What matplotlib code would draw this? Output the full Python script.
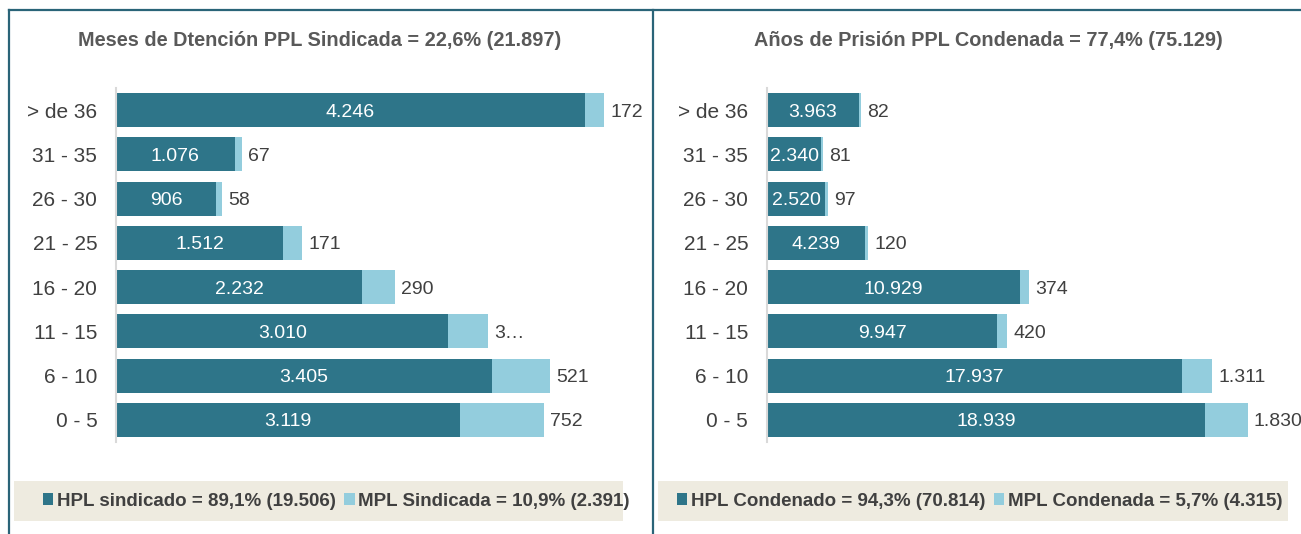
import matplotlib
matplotlib.use('Agg')
import matplotlib.pyplot as plt
from matplotlib.patches import Rectangle, Patch
from matplotlib.lines import Line2D

plt.rcParams['font.family'] = ['Liberation Sans', 'DejaVu Sans']

# data
categories = ['> de 36', '31 - 35', '26 - 30', '21 - 25', '16 - 20', '11 - 15', '6 - 10', '0 - 5']
hpl_sindicado = [4246, 1076, 906, 1512, 2232, 3010, 3405, 3119]
mpl_sindicada = [172, 67, 58, 171, 290, 360, 521, 752]
hpl_condenado = [3963, 2340, 2520, 4239, 10929, 9947, 17937, 18939]
mpl_condenada = [82, 81, 97, 120, 374, 420, 1311, 1830]

title_left = 'Meses de Dtención PPL Sindicada = 22,6% (21.897)'
title_right = 'Años de Prisión PPL Condenada = 77,4% (75.129)'
legend_left = ['HPL sindicado = 89,1% (19.506)', 'MPL Sindicada = 10,9% (2.391)']
legend_right = ['HPL Condenado = 94,3% (70.814)', 'MPL Condenada = 5,7% (4.315)']

DARK = '#2E7589'
LIGHT = '#93CDDD'
BORDER = '#2A6478'
TXT = '#404040'
W, H = 1301, 534


def fmt(v):
    return f'{v:,}'.replace(',', '.')


def px_rect(x0, y0, x1, y1):
    return [x0 / W, 1 - y1 / H, (x1 - x0) / W, (y1 - y0) / H]


fig = plt.figure(figsize=(W / 100, H / 100), dpi=100)
fig.patch.set_facecolor('white')


def draw_panel(ax, hpl, mpl, xmax, mpl_labels):
    y = list(range(len(categories)))[::-1]
    ax.barh(y, hpl, height=0.77, color=DARK)
    ax.barh(y, mpl, left=hpl, height=0.77, color=LIGHT)
    for yi, h, m, lab in zip(y, hpl, mpl, mpl_labels):
        ax.text(h / 2, yi, fmt(h), ha='center', va='center_baseline', color='white', fontsize=14)
        ax.annotate(lab, (h + m, yi), xytext=(4.5, 0), textcoords='offset points',
                    ha='left', va='center_baseline', color=TXT, fontsize=14)
    ax.set_yticks(y)
    ax.set_yticklabels(categories, va='center_baseline')
    ax.set_ylim(-0.5, len(categories) - 0.5)
    ax.set_xlim(0, xmax)
    ax.set_xticks([])
    for s in ['top', 'right', 'bottom']:
        ax.spines[s].set_visible(False)
    ax.spines['left'].set_color('#D9D9D9')
    ax.spines['left'].set_linewidth(1.5)
    ax.tick_params(axis='y', length=0, pad=13.5, labelsize=15, labelcolor=TXT)


ax1 = fig.add_axes(px_rect(116, 88, 645, 442))
lbl1 = [fmt(v) for v in mpl_sindicada]
lbl1[5] = '3…'  # truncated in the original
draw_panel(ax1, hpl_sindicado, mpl_sindicada, 4790, lbl1)

ax2 = fig.add_axes(px_rect(767, 88, 1290, 442))
draw_panel(ax2, hpl_condenado, mpl_condenada, 22600, [fmt(v) for v in mpl_condenada])

# titles
fig.text(320 / W, 1 - 41 / H, title_left, ha='center', va='center',
         fontsize=14.3, fontweight='bold', color='#595959')
fig.text(988 / W, 1 - 41 / H, title_right, ha='center', va='center',
         fontsize=14.3, fontweight='bold', color='#595959')

# legend boxes
for x0, x1 in [(14, 623), (658, 1288)]:
    fig.patches.append(Rectangle((x0 / W, 1 - 521 / H), (x1 - x0) / W, 40 / H,
                                 transform=fig.transFigure, facecolor='#EEEBE0',
                                 edgecolor='none', zorder=1))

for labels, xs in [(legend_left, 43), (legend_right, 677)]:
    handles = [Patch(facecolor=DARK, label=labels[0]), Patch(facecolor=LIGHT, label=labels[1])]
    leg = fig.legend(handles=handles, loc='center left', bbox_to_anchor=(xs / W, 1 - 501 / H),
                     ncol=2, frameon=False, borderpad=0, borderaxespad=0,
                     handlelength=0.55, handleheight=0.55, handletextpad=0.2,
                     columnspacing=0.45, prop={'size': 13.5, 'weight': 'bold'})
    for t in leg.get_texts():
        t.set_color(TXT)

# panel borders
for xs_, ys_ in [([9, 9], [10, 534]), ([9, 1301], [10, 10]), ([652.5, 652.5], [10, 534])]:
    fig.lines.append(Line2D([x / W for x in xs_], [1 - y / H for y in ys_],
                            transform=fig.transFigure, color=BORDER, lw=1.6))

fig.savefig('out.png', dpi=100)
